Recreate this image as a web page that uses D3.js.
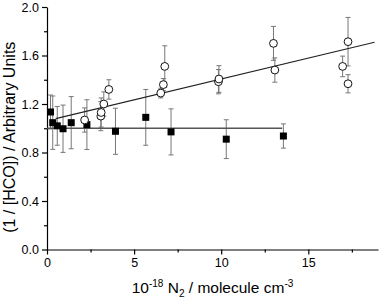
<!DOCTYPE html>
<head>
  <meta charset="utf-8">
  <script src="https://d3js.org/d3.v7.min.js"></script>
  <style>
    body { margin: 0; background: #fff; }
    text { font-family: 'Liberation Sans', Arial, sans-serif; fill: #000; }
    .axis path, .axis line { stroke: #000; stroke-width: 1.2px; }
    .axis text { font-size: 12.5px; }
    .err { stroke: #777; stroke-width: 1px; fill: none; }
  </style>
</head>
<body>
  <div id="chart"></div>
  <script>
    // filled squares: N2 density, signal, error
    var sqX = [0.2, 0.33, 0.59, 0.92, 1.39, 2.29, 3.93, 5.67, 7.12, 10.29, 13.57];
    var sqY = [1.134, 1.046, 1.02, 0.996, 1.046, 1.03, 0.975, 1.09, 0.97, 0.91, 0.936];
    var sqE = [0.14, 0.22, 0.16, 0.195, 0.215, 0.205, 0.19, 0.23, 0.19, 0.16, 0.10];

    // open circles
    var ciX = [2.16, 3.09, 3.11, 3.26, 3.55, 6.53, 6.68, 6.76, 9.84, 9.87, 13.0, 13.08, 16.97, 17.28, 17.28];
    var ciY = [1.068, 1.10, 1.13, 1.20, 1.32, 1.29, 1.36, 1.51, 1.384, 1.406, 1.70, 1.48, 1.51, 1.714, 1.367];
    var ciE = [0.10, 0.12, 0.12, 0.10, 0.08, 0.04, 0.05, 0.17, 0.10, 0.11, 0.14, 0.10, 0.085, 0.2, 0.075];

    // fitted lines: [x start, x end], intercept, slope
    var fitCircRange = [0.5, 18.8], fitCircCoef = [1.062, 0.0344];
    var fitSqRange = [0, 13.5], fitSqCoef = [1.0, 0];

    var xTicks = [0, 5, 10, 15];
    var yTicks = [0.0, 0.4, 0.8, 1.2, 1.6, 2.0];

    var W = 380, H = 301;
    var margin = {top: 7, right: 2, bottom: 51.5, left: 47};

    var svg = d3.select("#chart").append("svg")
      .attr("width", W)
      .attr("height", H);

    var x = d3.scaleLinear().domain([0, 19]).range([margin.left, W - margin.right]);
    var y = d3.scaleLinear().domain([0, 2]).range([H - margin.bottom, margin.top]);

    // minor ticks
    svg.append("g")
      .attr("class", "axis")
      .attr("transform", "translate(0," + y(0) + ")")
      .call(d3.axisBottom(x).tickValues(d3.range(2.5, 19, 5)).tickSize(3).tickFormat(""))
      .select(".domain").remove();
    svg.append("g")
      .attr("class", "axis")
      .attr("transform", "translate(" + x(0) + ",0)")
      .call(d3.axisLeft(y).tickValues(d3.range(0.2, 2, 0.4)).tickSize(3).tickFormat(""))
      .select(".domain").remove();

    // major axes
    var xAxis = svg.append("g")
      .attr("class", "axis")
      .attr("transform", "translate(0," + y(0) + ")")
      .call(d3.axisBottom(x).tickValues(xTicks).tickSize(5).tickSizeOuter(0).tickPadding(4));
    var yAxis = svg.append("g")
      .attr("class", "axis")
      .attr("transform", "translate(" + x(0) + ",0)")
      .call(d3.axisLeft(y).tickValues(yTicks).tickSize(5).tickSizeOuter(0).tickPadding(3)
        .tickFormat(d3.format(".1f")));

    function errBars(xs, ys, es) {
      var g = svg.append("g").attr("class", "err");
      xs.forEach(function (d, i) {
        var cx = x(d), top = y(ys[i] + es[i]), bot = y(ys[i] - es[i]);
        g.append("line").attr("x1", cx).attr("x2", cx).attr("y1", top).attr("y2", bot);
        g.append("line").attr("x1", cx - 2.5).attr("x2", cx + 2.5).attr("y1", top).attr("y2", top);
        g.append("line").attr("x1", cx - 2.5).attr("x2", cx + 2.5).attr("y1", bot).attr("y2", bot);
      });
    }
    errBars(sqX, sqY, sqE);
    errBars(ciX, ciY, ciE);

    // fit lines
    var line = d3.line().x(function (d) { return x(d[0]); }).y(function (d) { return y(d[1]); });
    svg.append("path")
      .datum(fitSqRange.map(function (v) { return [v, fitSqCoef[0] + fitSqCoef[1] * v]; }))
      .attr("d", line)
      .attr("fill", "none").attr("stroke", "#555").attr("stroke-width", 1.3);
    svg.append("path")
      .datum(fitCircRange.map(function (v) { return [v, fitCircCoef[0] + fitCircCoef[1] * v]; }))
      .attr("d", line)
      .attr("fill", "none").attr("stroke", "#222").attr("stroke-width", 1.1);

    // markers
    var s = 7;
    svg.append("g").selectAll("rect")
      .data(sqX)
      .enter().append("rect")
      .attr("x", function (d) { return x(d) - s / 2; })
      .attr("y", function (d, i) { return y(sqY[i]) - s / 2; })
      .attr("width", s).attr("height", s)
      .attr("fill", "#000");

    svg.append("g").selectAll("circle")
      .data(ciX)
      .enter().append("circle")
      .attr("cx", function (d) { return x(d); })
      .attr("cy", function (d, i) { return y(ciY[i]); })
      .attr("r", 3.9)
      .attr("fill", "#fff")
      .attr("stroke", "#111")
      .attr("stroke-width", 1);

    // axis titles
    svg.append("text")
      .attr("transform", "translate(15," + ((y(0) + y(2)) / 2 + 9) + ") rotate(-90)")
      .attr("text-anchor", "middle")
      .style("font-size", "16px")
      .text("(1 / [HCO]) / Arbitrary Units");

    var xt = svg.append("text")
      .attr("x", (x(0) + x(19)) / 2 + 0)
      .attr("y", 293)
      .attr("text-anchor", "middle")
      .style("font-size", "15.5px");
    xt.append("tspan").text("10");
    xt.append("tspan").attr("dy", -6).style("font-size", "10px").text("-18");
    xt.append("tspan").attr("dy", 6).text(" N");
    xt.append("tspan").attr("dy", 4).style("font-size", "10px").text("2");
    xt.append("tspan").attr("dy", -4).text(" / molecule cm");
    xt.append("tspan").attr("dy", -6).style("font-size", "10px").text("-3");
  </script>
</body>
